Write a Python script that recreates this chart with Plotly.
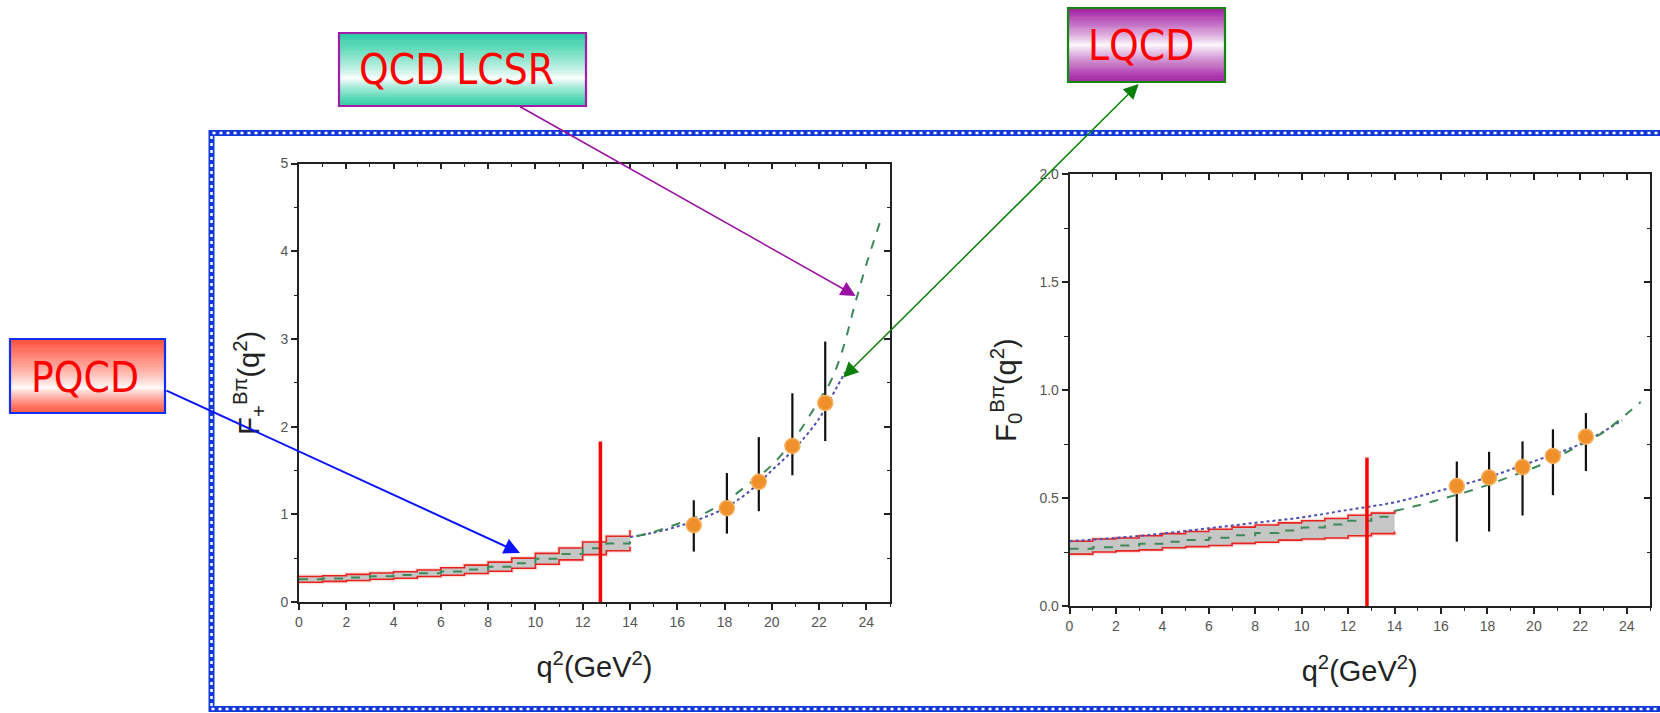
import plotly.graph_objects as go

W, H = 1660, 713

# ---------------- data ----------------
band_q2 = [0, 1, 2, 3, 4, 5, 6, 7, 8, 9, 10, 11, 12, 13, 14]
# F+ (left panel) PQCD band
fp_upper = [0.29, 0.30, 0.315, 0.33, 0.345, 0.365, 0.39, 0.42, 0.455, 0.50, 0.555, 0.615, 0.685, 0.75, 0.82]
fp_lower = [0.225, 0.235, 0.245, 0.26, 0.27, 0.29, 0.305, 0.325, 0.35, 0.385, 0.43, 0.48, 0.54, 0.585, 0.63]
fp_center = [0.258, 0.268, 0.28, 0.295, 0.308, 0.328, 0.348, 0.372, 0.402, 0.442, 0.492, 0.548, 0.612, 0.668, 0.725]
# F+ LCSR extrapolation (green dashed) and LQCD fit (blue dotted)
fp_lcsr_q2 = [14.3, 15, 16, 17, 18, 19, 20, 21, 22, 22.5, 23, 23.5, 24, 24.6]
fp_lcsr = [0.75, 0.80, 0.89, 0.99, 1.14, 1.34, 1.56, 1.88, 2.30, 2.52, 2.88, 3.38, 3.85, 4.35]
fp_lqcd_q2 = [14, 15, 16, 17, 18, 19, 20, 21, 22, 22.75, 23.1]
fp_lqcd = [0.74, 0.79, 0.86, 0.95, 1.07, 1.25, 1.50, 1.76, 2.09, 2.45, 2.62]
# F+ lattice points
fp_pts_q2 = [16.7, 18.1, 19.45, 20.87, 22.26]
fp_pts = [0.877, 1.07, 1.37, 1.78, 2.27]
fp_pts_hi = [1.16, 1.47, 1.88, 2.38, 2.97]
fp_pts_lo = [0.575, 0.78, 1.035, 1.445, 1.835]

# F0 (right panel) PQCD band
f0_upper = [0.30, 0.31, 0.315, 0.325, 0.335, 0.345, 0.355, 0.365, 0.375, 0.385, 0.395, 0.405, 0.42, 0.43, 0.445]
f0_lower = [0.24, 0.25, 0.255, 0.26, 0.27, 0.275, 0.28, 0.29, 0.295, 0.305, 0.31, 0.315, 0.325, 0.335, 0.345]
f0_center = [0.265, 0.272, 0.28, 0.288, 0.297, 0.306, 0.316, 0.327, 0.338, 0.35, 0.363, 0.377, 0.395, 0.413, 0.43]
f0_lcsr_q2 = [14, 15, 16, 17, 18, 19, 20, 21, 22, 23, 24, 24.6]
f0_lcsr = [0.44, 0.465, 0.495, 0.525, 0.56, 0.60, 0.64, 0.69, 0.745, 0.805, 0.89, 0.945]
f0_lqcd_q2 = [0, 2, 4, 6, 8, 10, 12, 14, 16, 18, 20, 22, 23.8]
f0_lqcd = [0.30, 0.315, 0.335, 0.36, 0.385, 0.41, 0.445, 0.48, 0.535, 0.595, 0.67, 0.75, 0.86]
f0_pts_q2 = [16.68, 18.07, 19.51, 20.82, 22.24]
f0_pts = [0.555, 0.595, 0.643, 0.695, 0.784]
f0_pts_hi = [0.669, 0.714, 0.762, 0.818, 0.893]
f0_pts_lo = [0.298, 0.345, 0.419, 0.513, 0.625]

# PQCD validity cut (red vertical lines)
cut_fp_q2 = [12.75, 12.75]
cut_fp_y = [0, 1.83]
cut_f0_q2 = [12.81, 12.81]
cut_f0_y = [0, 0.687]

x_ticks = [0, 2, 4, 6, 8, 10, 12, 14, 16, 18, 20, 22, 24]

# ---------------- styling ----------------
RED = "#e8231e"
GREEN = "#3c8a58"
BLUE_D = "#4a4fb0"
ORANGE = "#f0902a"
GRAY_FILL = "#c6c6c6"
AX = "#222222"
TICKFONT = dict(family="Liberation Sans, Arial, sans-serif", size=14, color="#555555")
TITLEFONT = dict(family="Liberation Sans, Arial, sans-serif", size=29, color="#222222")


def px(x):
    return x / W


def py(y):
    return 1 - y / H


fig = go.Figure()


def add_panel(xa, ya, up, lo, ce, lc_q, lc, lq_q, lq, pq, pv, phi, plo, cq, cy):
    # soft glow under red edges
    for arr in (lo, up):
        fig.add_trace(go.Scatter(x=band_q2, y=arr, mode="lines", line=dict(color="rgba(255,120,120,0.25)", width=4, shape="hv"),
                                 xaxis=xa, yaxis=ya, hoverinfo="skip", showlegend=False))
    fig.add_trace(go.Scatter(x=band_q2, y=lo, mode="lines", line=dict(color=RED, width=1.6, shape="hv"),
                             xaxis=xa, yaxis=ya, hoverinfo="skip", showlegend=False))
    fig.add_trace(go.Scatter(x=band_q2, y=up, mode="lines", line=dict(color=RED, width=1.6, shape="hv"),
                             fill="tonexty", fillcolor=GRAY_FILL,
                             xaxis=xa, yaxis=ya, hoverinfo="skip", showlegend=False))
    fig.add_trace(go.Scatter(x=band_q2, y=ce, mode="lines", line=dict(color=GREEN, width=2, dash="dash", shape="hv"),
                             xaxis=xa, yaxis=ya, hoverinfo="skip", showlegend=False))
    fig.add_trace(go.Scatter(x=lq_q, y=lq, mode="lines", line=dict(color=BLUE_D, width=2, dash="dot", shape="spline"),
                             xaxis=xa, yaxis=ya, hoverinfo="skip", showlegend=False))
    fig.add_trace(go.Scatter(x=lc_q, y=lc, mode="lines", line=dict(color=GREEN, width=2, dash="dash", shape="spline"),
                             xaxis=xa, yaxis=ya, hoverinfo="skip", showlegend=False))
    fig.add_trace(go.Scatter(x=pq, y=pv, mode="markers",
                             marker=dict(color=ORANGE, size=15, line=dict(color="#f6b060", width=1.5)),
                             error_y=dict(type="data", symmetric=False,
                                          array=[h - v for h, v in zip(phi, pv)],
                                          arrayminus=[v - l for v, l in zip(pv, plo)],
                                          color="#111111", thickness=2.2, width=0),
                             xaxis=xa, yaxis=ya, hoverinfo="skip", showlegend=False))
    fig.add_trace(go.Scatter(x=cq, y=cy, mode="lines", line=dict(color="#ff0000", width=3.5),
                             xaxis=xa, yaxis=ya, hoverinfo="skip", showlegend=False))


add_panel("x", "y", fp_upper, fp_lower, fp_center, fp_lcsr_q2, fp_lcsr, fp_lqcd_q2, fp_lqcd,
          fp_pts_q2, fp_pts, fp_pts_hi, fp_pts_lo, cut_fp_q2, cut_fp_y)
add_panel("x2", "y2", f0_upper, f0_lower, f0_center, f0_lcsr_q2, f0_lcsr, f0_lqcd_q2, f0_lqcd,
          f0_pts_q2, f0_pts, f0_pts_hi, f0_pts_lo, cut_f0_q2, cut_f0_y)

# invisible traces so the mirrored (inside-tick) axes exist
for xa, ya in (("x3", "y"), ("x", "y3"), ("x4", "y2"), ("x2", "y4")):
    fig.add_trace(go.Scatter(x=[0], y=[0], mode="markers", marker=dict(opacity=0, size=1),
                             xaxis=xa, yaxis=ya, hoverinfo="skip", showlegend=False))

L_DOM_X = [px(299), px(890)]
L_DOM_Y = [py(602), py(163.5)]
R_DOM_X = [px(1069.5), px(1650)]
R_DOM_Y = [py(606), py(174)]


def xaxis_cfg(dom, anchor, title):
    return dict(domain=dom, anchor=anchor, range=[0, 25], tickvals=x_ticks, ticks="outside", ticklen=6,
                tickwidth=1.5, tickcolor=AX, showline=True, linecolor=AX, linewidth=1.6,
                showgrid=False, zeroline=False, tickfont=TICKFONT,
                minor=dict(dtick=1, ticks="outside", ticklen=3.5, tickwidth=1.3, tickcolor=AX),
                title=dict(text=title, font=TITLEFONT, standoff=28), automargin=False)


def yaxis_cfg(dom, anchor, rng, dt, mdt, fmt, title, standoff):
    return dict(domain=dom, anchor=anchor, range=rng, dtick=dt, tick0=0, tickformat=fmt, ticks="outside",
                ticklen=6, tickwidth=1.5, tickcolor=AX, showline=True, linecolor=AX, linewidth=1.6,
                showgrid=False, zeroline=False, tickfont=TICKFONT,
                minor=dict(dtick=mdt, ticks="outside", ticklen=3.5, tickwidth=1.3, tickcolor=AX),
                title=dict(text=title, font=TITLEFONT, standoff=standoff), automargin=False)


def mirror_x(over, anchor):
    return dict(overlaying=over, anchor=anchor, side="top", range=[0, 25], tickvals=x_ticks, ticks="inside",
                ticklen=6, tickwidth=1.5, tickcolor=AX, showticklabels=False, showline=True, linecolor=AX,
                linewidth=1.6, showgrid=False, zeroline=False,
                minor=dict(dtick=1, ticks="inside", ticklen=3.5, tickwidth=1.3, tickcolor=AX))


def mirror_y(over, anchor, rng, dt, mdt):
    return dict(overlaying=over, anchor=anchor, side="right", range=rng, dtick=dt, tick0=0, ticks="inside",
                ticklen=6, tickwidth=1.5, tickcolor=AX, showticklabels=False, showline=True, linecolor=AX,
                linewidth=1.6, showgrid=False, zeroline=False,
                minor=dict(dtick=mdt, ticks="inside", ticklen=3.5, tickwidth=1.3, tickcolor=AX))


xtitle = "q<sup>2</sup>(GeV<sup>2</sup>)"
fig.update_layout(
    xaxis=xaxis_cfg(L_DOM_X, "y", xtitle),
    yaxis=yaxis_cfg(L_DOM_Y, "x", [0, 5], 1, 0.5, "d", "F<sub>+</sub><sup>Bπ</sup>(q<sup>2</sup>)", 12),
    xaxis2=xaxis_cfg(R_DOM_X, "y2", xtitle),
    yaxis2=yaxis_cfg(R_DOM_Y, "x2", [0, 2], 0.5, 0.25, ".1f", "F<sub>0</sub><sup>Bπ</sup>(q<sup>2</sup>)", 14),
    xaxis3=mirror_x("x", "y"),
    yaxis3=mirror_y("y", "x", [0, 5], 1, 0.5),
    xaxis4=mirror_x("x2", "y2"),
    yaxis4=mirror_y("y2", "x2", [0, 2], 0.5, 0.25),
)

shapes = []

# dotted blue frame around both panels
shapes.append(dict(type="rect", xref="paper", yref="paper", x0=px(211.5), x1=px(1700), y0=py(709), y1=py(133),
                   line=dict(color="#1238d8", width=6), fillcolor="rgba(0,0,0,0)", layer="above"))
shapes.append(dict(type="rect", xref="paper", yref="paper", x0=px(211.5), x1=px(1700), y0=py(709), y1=py(133),
                   line=dict(color="white", width=2.5, dash="3px,4px"), fillcolor="rgba(0,0,0,0)", layer="above"))


def gradient_box(x0, y0, x1, y1, rgb, white_at, border):
    n = 40
    for i in range(n):
        t = (i + 0.5) / n
        if t < white_at:
            w = 1 - t / white_at
        else:
            w = (t - white_at) / (1 - white_at)
        w = w ** 0.8
        c = tuple(int(round(255 + (v - 255) * w)) for v in rgb)
        ya = y0 + (y1 - y0) * i / n
        yb = y0 + (y1 - y0) * (i + 1) / n
        shapes.append(dict(type="rect", xref="paper", yref="paper", x0=px(x0), x1=px(x1), y0=py(yb + 0.5),
                           y1=py(ya), line=dict(width=0), fillcolor="rgb(%d,%d,%d)" % c, layer="above"))
    shapes.append(dict(type="rect", xref="paper", yref="paper", x0=px(x0), x1=px(x1), y0=py(y1), y1=py(y0),
                       line=dict(color=border, width=2.2), fillcolor="rgba(0,0,0,0)", layer="above"))


gradient_box(339, 33, 586, 106, (40, 204, 160), 0.62, "#a01ea8")   # QCD LCSR
gradient_box(10, 339, 165, 413, (255, 80, 60), 0.66, "#1030f0")     # PQCD
gradient_box(1068, 8, 1225, 82, (160, 28, 160), 0.5, "#128a12")     # LQCD

fig.update_layout(shapes=shapes)

LABELFONT = dict(family="Liberation Sans Narrow, DejaVu Sans Condensed, Arial Narrow, Liberation Sans, sans-serif",
                 size=42, color="#ff0000")
annotations = [
    dict(text="QCD LCSR", xref="paper", yref="paper", x=px(357), y=py(70), xanchor="left", yanchor="middle",
         showarrow=False, font=LABELFONT),
    dict(text="PQCD", xref="paper", yref="paper", x=px(29), y=py(377), xanchor="left", yanchor="middle",
         showarrow=False, font=LABELFONT),
    dict(text="LQCD", xref="paper", yref="paper", x=px(1086), y=py(46), xanchor="left", yanchor="middle",
         showarrow=False, font=LABELFONT),
    # arrows
    dict(text="", xref="x", yref="y", x=9.35, y=0.56, ax=-355, ay=-163, axref="pixel", ayref="pixel",
         showarrow=True, arrowhead=2, arrowsize=1.6, arrowwidth=2, arrowcolor="#0a14ff", standoff=0),
    dict(text="", xref="x", yref="y", x=23.55, y=3.49, ax=-337, ay=-190, axref="pixel", ayref="pixel",
         showarrow=True, arrowhead=2, arrowsize=2, arrowwidth=1.5, arrowcolor="#9a10a0", standoff=0),
    dict(text="", xref="x", yref="y", x=23.02, y=2.56, ax=297, ay=-295, axref="pixel", ayref="pixel",
         showarrow=True, arrowhead=2, startarrowhead=2, arrowside="end+start", arrowsize=2, startarrowsize=2,
         arrowwidth=1.5, arrowcolor="#0a800a", standoff=0, startstandoff=0),
]
fig.update_layout(annotations=annotations)

fig.update_layout(width=W, height=H, margin=dict(l=0, r=0, t=0, b=0), paper_bgcolor="white",
                  plot_bgcolor="white", showlegend=False, hovermode=False)

fig.write_html("out.html")
